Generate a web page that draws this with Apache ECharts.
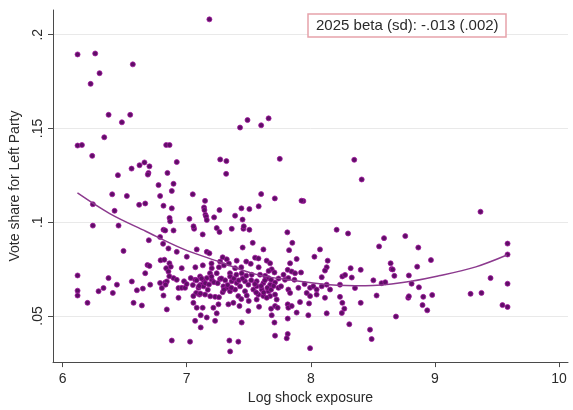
<!DOCTYPE html>
<html>
<head>
<meta charset="utf-8">
<script src="https://cdn.jsdelivr.net/npm/echarts@6/dist/echarts.min.js"></script>
<style>
html,body{margin:0;padding:0;background:#fff;}
#chart{width:573px;height:410px;}
</style>
</head>
<body>
<div id="chart"></div>
<script>
// Tick labels
const xTicks = [6, 7, 8, 9, 10];
const yTicks = [0.05, 0.1, 0.15, 0.2];

// Annotation text
const noteText = '2025 beta (sd): -.013 (.002)';

// Scatter points [log shock exposure, vote share]
const leftPoints = [
  [6.121,.1895],[6.263,.190],[6.298,.1795],[6.226,.1738],[6.566,.1842],[6.371,.1573],[6.545,.1573],[6.478,.1533],[6.336,.1453],
  [6.121,.1409],[6.156,.1412],[6.239,.1354],[6.835,.1412],[6.862,.1412],
  [6.620,.1304],[6.660,.1319],[6.700,.1298],[6.692,.1263],[6.687,.1254],[6.556,.1286],[6.446,.1251],[6.845,.1263],[6.920,.1321],
  [6.773,.1198],[6.894,.1205],[6.880,.1167],[6.400,.1149],[6.518,.1140],[6.786,.1140],
  [6.244,.1096],[6.617,.1093],[6.666,.1100],[6.813,.1088],[6.880,.1074],[6.419,.1061],
  [6.244,.0982],[6.451,.0982],[6.862,.1023],[6.867,.1005],[6.813,.0960],[6.827,.0956],[6.894,.0956],
  [6.786,.0921],[6.695,.0904],[6.491,.0847],[6.853,.0860],[6.920,.0842],[6.810,.0885],
  [6.121,.0716],[6.121,.0635],[6.121,.0609],[6.201,.0570],[6.290,.0632],[6.330,.0649],[6.370,.0702],[6.405,.0623],[6.438,.0667],
  [6.558,.0684],[6.572,.0570],[6.599,.0637],[6.639,.0556],[6.647,.0646],[6.666,.0728],[6.684,.0772],[6.700,.0767],[6.706,.0667],
  [6.786,.0676],[6.800,.0649],[6.813,.0609],[6.835,.0755],[6.840,.0535],[6.853,.0737],[6.861,.0781],[6.872,.0763],[6.827,.0679],
  [6.840,.0684],[6.880,.0369],[6.894,.0702],[6.920,.0693],[6.934,.0649],[6.934,.0597],[6.790,.0797],[6.820,.0800],[6.860,.0712],[6.830,.0667]
];

const centerPoints = [
  [7.060,.0965],[7.129,.0935],[7.242,.0969],[7.264,.0948],[7.363,.0965],[7.457,.0965],[7.505,.0960],[7.532,.0890],[7.451,.0865],
  [7.081,.0855],[7.162,.0842],[7.183,.0834],[7.001,.0816],[6.960,.0755],[7.290,.0813],[7.323,.0802],[7.269,.0790],[7.403,.0795],
  [7.516,.0778],[7.551,.0811],[7.202,.0755],[7.188,.0728],[7.242,.0728],[7.108,.0711],[7.162,.0702],[7.202,.0693],
  [7.140,.0685],[7.113,.0667],[7.068,.0693],[7.033,.0702],[6.979,.0685],[6.960,.0650],[6.987,.0650],[7.095,.0650],[7.135,.0658],
  [7.076,.0623],[7.054,.0606],[7.103,.0614],[7.148,.0614],[7.229,.0602],[7.290,.0627],[7.296,.0658],[7.269,.0697],[7.349,.0728],
  [7.390,.0755],[7.443,.0728],[7.363,.0685],[7.403,.0676],[7.430,.0658],[7.470,.0685],[7.497,.0667],[7.323,.0650],[7.349,.0632],
  [7.390,.0641],[7.416,.0606],[7.470,.0632],[7.484,.0609],[7.537,.0641],[7.564,.0658],[7.524,.0720],
  [7.376,.0570],[7.336,.0562],[7.425,.0553],[7.256,.0562],[7.215,.0544],[7.129,.0544],[7.081,.0544],[7.054,.0570],
  [7.242,.0514],[7.162,.0492],[7.113,.0504],[7.068,.0474],[7.229,.0474],[7.443,.0465],[7.497,.0527],
  [7.113,.0439],[7.027,.0363],[7.344,.0369],[7.416,.0363],[7.350,.0311],
  [7.811,.0946],[8.208,.0960],[7.851,.0890],[7.618,.0855],[7.825,.0851],[8.074,.0855],[7.886,.0804],[8.029,.0816],[8.136,.0795],
  [7.578,.0807],[7.645,.0795],[7.672,.0781],[7.833,.0781],[8.128,.0760],[8.114,.0742],[7.685,.0749],[7.707,.0732],[7.814,.0746],
  [7.846,.0737],[7.873,.0728],[7.921,.0732],[8.088,.0707],[8.254,.0711],[7.591,.0720],[7.632,.0714],[7.658,.0702],[7.680,.0693],
  [7.564,.0685],[7.618,.0676],[7.672,.0667],[7.712,.0679],[7.792,.0693],[7.819,.0702],[7.868,.0693],[7.994,.0650],[8.020,.0658],
  [8.047,.0641],[8.088,.0658],[8.128,.0667],[8.155,.0641],[8.235,.0667],[7.605,.0641],[7.658,.0632],[7.739,.0650],[7.760,.0658],
  [7.578,.0614],[7.618,.0606],[7.672,.0606],[7.712,.0614],[7.967,.0623],[7.994,.0606],[8.047,.0614],[8.114,.0597],[7.819,.0641],
  [7.833,.0623],[7.564,.0588],[7.645,.0597],[7.725,.0588],[7.913,.0574],[7.986,.0567],[8.235,.0602],[8.254,.0570],[7.583,.0549],
  [7.680,.0539],[7.712,.0553],[7.733,.0544],[7.814,.0562],[7.819,.0544],[7.846,.0553],[7.886,.0518],[7.980,.0504],[8.128,.0514],
  [7.685,.0504],[7.814,.0486],[7.707,.0465],[8.270,.0539],[8.250,.0516],[7.712,.0395],[7.814,.0404],[7.806,.0381],[7.994,.0328]
];

// Extra points inside the dense central blob (estimated)
const clusterPoints = [
  [7.08,.0690],[7.12,.0700],[7.15,.0675],[7.18,.0668],[7.20,.0710],[7.22,.0680],[7.10,.0660],[7.17,.0640],[7.05,.0665],[7.00,.0670],
  [7.25,.0675],[7.28,.0700],[7.31,.0690],[7.33,.0665],[7.35,.0710],[7.38,.0700],[7.40,.0720],[7.42,.0690],[7.36,.0650],[7.30,.0640],
  [7.45,.0700],[7.48,.0715],[7.52,.0690],[7.55,.0670],[7.60,.0660],[7.63,.0690],[7.65,.0650],[7.68,.0640],[7.70,.0660],[7.62,.0625],
  [7.26,.0760],[7.30,.0770],[7.34,.0780],[7.13,.0770],[7.20,.0780],[7.07,.0760],[7.44,.0760],[7.48,.0790],[7.58,.0760],[7.66,.0740],
  [7.11,.0620],[7.19,.0605],[7.26,.0600],[7.44,.0590],[7.50,.0580],[7.56,.0625],[7.74,.0700],[7.78,.0720],[7.90,.0650],[7.95,.0670]
];

const upperPoints = [
  [7.183,.2082],[7.430,.1505],[7.490,.1545],[7.600,.1517],[7.660,.1554],[7.270,.1335],[7.320,.1326],[7.318,.1258],[7.750,.1338],
  [7.049,.1149],[7.600,.1150],[7.710,.1127],[7.940,.1113],[7.925,.1115],[7.580,.1085],
  [7.148,.1114],[7.140,.1079],[7.143,.1065],[7.151,.1040],[7.157,.1030],[7.022,.1018],[7.162,.1012],[7.221,.1026],[7.264,.1065],
  [7.505,.1070],[7.441,.1074],[7.390,.1035],[7.450,.1014],[7.460,.0978],[7.055,.0978]
];

const rightPoints = [
  [8.300,.0940],[8.350,.1333],[8.410,.1228],[8.276,.0719],[8.321,.0755],[8.402,.0746],[8.330,.0705],[8.356,.0649],[8.402,.0570],
  [8.310,.0456],[8.477,.0427],[8.490,.0377],[8.504,.0690],[8.530,.0609],[8.550,.0871],[8.590,.0915],[8.570,.0675],[8.600,.0680],
  [8.643,.0781],[8.651,.0750],[8.660,.0748],[8.673,.0714],[8.686,.0497],[8.761,.0926],[8.790,.0716],[8.812,.0672],[8.785,.0597],
  [8.790,.0605],[8.857,.0763],[8.866,.0865],[8.871,.0653],[8.906,.0602],[8.900,.0558],[8.938,.0530],[8.968,.0798],[8.978,.0612],
  [9.287,.0618],[9.367,.1056],[9.375,.0623],[9.448,.0702],[9.544,.0558],[9.585,.0548],[9.585,.0672],[9.585,.0886],[9.585,.0828]
];

// Quadratic fit line
const fitX = [6.12, 6.38, 6.67, 6.97, 7.26, 7.56, 7.85, 8.15, 8.44, 8.74, 9.03, 9.33, 9.58];
const fitY = [0.1156, 0.1046, 0.0952, 0.0858, 0.0790, 0.0722, 0.0690, 0.0667, 0.0661, 0.0678, 0.0714, 0.0762, 0.0825];

const allPoints = leftPoints.concat(centerPoints, clusterPoints, upperPoints, rightPoints);
const fitData = fitX.map((x, i) => [x, fitY[i]]);

const chart = echarts.init(document.getElementById('chart'), null, {renderer: 'canvas'});
const FONT = '"Liberation Sans", Arial, sans-serif';
const AXIS_COLOR = '#4a4a4a';
const TEXT_COLOR = '#2a2a2a';

chart.setOption({
  animation: false,
  backgroundColor: '#ffffff',
  title: {
    text: noteText,
    left: 308,
    top: 14,
    padding: [4, 8, 4, 8],
    borderColor: '#e6a2aa',
    borderWidth: 1.5,
    backgroundColor: '#ffffff',
    textStyle: {fontFamily: FONT, fontSize: 15, fontWeight: 'normal', color: TEXT_COLOR}
  },
  grid: {left: 53, right: 5, top: 10, bottom: 43, containLabel: false},
  xAxis: {
    type: 'value',
    min: 5.923,
    max: 10.072,
    name: 'Log shock exposure',
    nameLocation: 'middle',
    nameGap: 26,
    nameTextStyle: {fontFamily: FONT, fontSize: 14, color: TEXT_COLOR},
    axisLine: {show: true, onZero: false, lineStyle: {color: AXIS_COLOR, width: 1}},
    axisTick: {show: true, length: 5, customValues: xTicks, lineStyle: {color: AXIS_COLOR}},
    axisLabel: {customValues: xTicks, margin: 10, fontFamily: FONT, fontSize: 14, color: TEXT_COLOR,
      formatter: v => String(v)},
    splitLine: {show: false}
  },
  yAxis: {
    type: 'value',
    min: 0.0254,
    max: 0.2132,
    name: 'Vote share for Left Party',
    nameLocation: 'middle',
    nameGap: 31,
    nameTextStyle: {fontFamily: FONT, fontSize: 14, color: TEXT_COLOR},
    axisLine: {show: true, onZero: false, lineStyle: {color: AXIS_COLOR, width: 1}},
    axisTick: {show: true, length: 5, customValues: yTicks, lineStyle: {color: AXIS_COLOR}},
    axisLabel: {customValues: yTicks, rotate: 90, margin: 8, fontFamily: FONT, fontSize: 14, color: TEXT_COLOR,
      formatter: v => String(+v.toFixed(3)).replace(/^0/, '')},
    splitLine: {show: false}
  },
  series: [
    {
      type: 'line',
      data: [],
      silent: true,
      z: 0,
      markLine: {
        silent: true,
        z: 0,
        symbol: ['none', 'none'],
        label: {show: false},
        lineStyle: {color: '#e9e9e9', width: 1, type: 'solid'},
        emphasis: {disabled: true},
        data: yTicks.map(v => ({yAxis: v}))
      }
    },
    {
      type: 'scatter',
      data: allPoints,
      z: 3,
      symbol: 'circle',
      symbolSize: 5,
      itemStyle: {color: '#5e0f66', borderColor: '#a3189f', borderWidth: 0.8, opacity: 1},
      silent: true
    },
    {
      type: 'line',
      data: fitData,
      z: 4,
      smooth: 0.35,
      showSymbol: false,
      symbol: 'none',
      lineStyle: {color: '#8c3a8e', width: 1.5},
      silent: true
    }
  ]
});
</script>
</body>
</html>
